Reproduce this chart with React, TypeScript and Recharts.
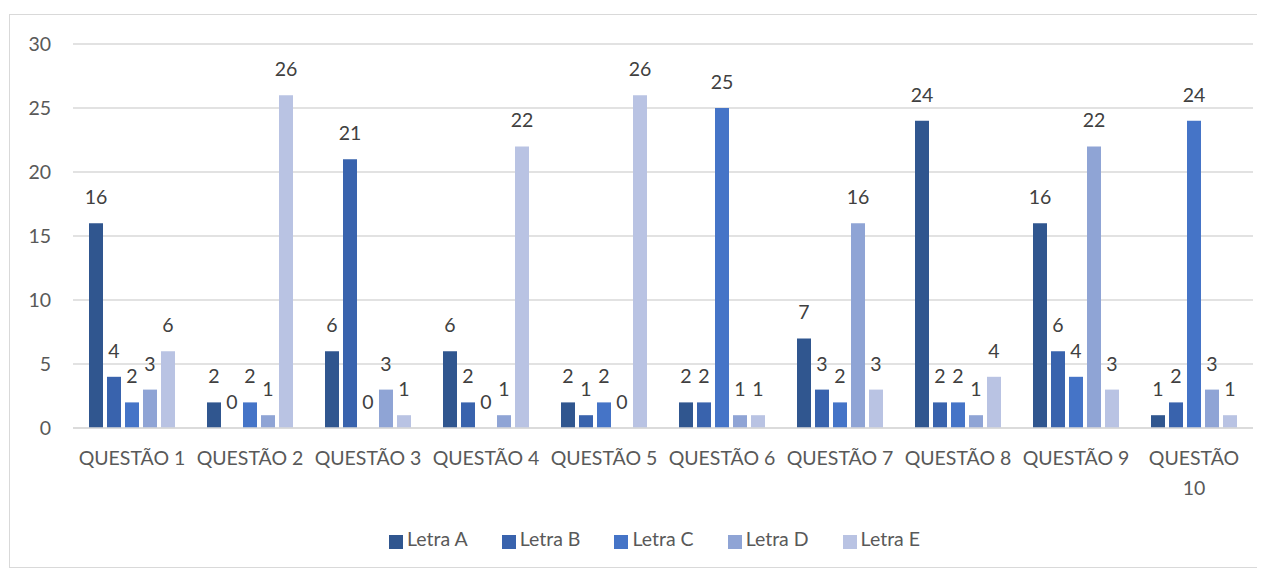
import { BarChart, Bar, XAxis, YAxis, CartesianGrid, Legend, LabelList } from "recharts";

const QUESTOES = [
  "QUESTÃO 1", "QUESTÃO 2", "QUESTÃO 3", "QUESTÃO 4", "QUESTÃO 5",
  "QUESTÃO 6", "QUESTÃO 7", "QUESTÃO 8", "QUESTÃO 9", "QUESTÃO 10",
];

const letraA = [16, 2, 6, 6, 2, 2, 7, 24, 16, 1];
const letraB = [4, 0, 21, 2, 1, 2, 3, 2, 6, 2];
const letraC = [2, 2, 0, 0, 2, 25, 2, 2, 4, 24];
const letraD = [3, 1, 3, 1, 0, 1, 16, 1, 22, 3];
const letraE = [6, 26, 1, 22, 26, 1, 3, 4, 3, 1];

const Y_TICKS = [0, 5, 10, 15, 20, 25, 30];

const SERIES = [
  { key: "a", name: "Letra A", color: "#30568f" },
  { key: "b", name: "Letra B", color: "#3963ad" },
  { key: "c", name: "Letra C", color: "#4574c7" },
  { key: "d", name: "Letra D", color: "#8fa4d5" },
  { key: "e", name: "Letra E", color: "#b9c3e3" },
];

const data = QUESTOES.map((q, i) => ({
  q,
  a: letraA[i],
  b: letraB[i],
  c: letraC[i],
  d: letraD[i],
  e: letraE[i],
}));

const FONT = "Lato, 'Noto Sans', sans-serif";
const FS = 19.5;

const QuestaoTick = (props: any) => {
  const { x, y, payload } = props;
  const label: string = payload.value;
  // long labels wrap onto two lines, like the original
  const lines = label.length > 9 ? label.split(" ") : [label];
  return (
    <text x={x} y={y} textAnchor="middle" fill="#595959" fontSize={FS} fontFamily={FONT}>
      {lines.map((l, i) => (
        <tspan key={i} x={x} dy={i === 0 ? 37 : 30}>{l}</tspan>
      ))}
    </text>
  );
};

// draws the value above the bar, zeros included
const ValueLabel = (props: any) => {
  const { x, y, width, value } = props;
  return (
    <text x={x + width / 2} y={y - 19} textAnchor="middle" fill="#404040" fontSize={FS} fontFamily={FONT}>
      {value}
    </text>
  );
};

export default function App() {
  return (
    <div
      style={{
        marginTop: 6,
        marginLeft: 1,
        width: 1262,
        height: 552,
        border: "1px solid #d9d9d9",
        fontFamily: FONT,
      }}
    >
      <BarChart
        width={1262}
        height={552}
        data={data}
        margin={{ top: 29, right: 19, bottom: 0, left: 0 }}
        barCategoryGap={16}
        barGap={4}
      >
        <CartesianGrid vertical={false} stroke="#d9d9d9" strokeWidth={1.5} />
        <XAxis
          dataKey="q"
          tick={<QuestaoTick />}
          tickLine={false}
          tickSize={0}
          tickMargin={0}
          axisLine={{ stroke: "#d9d9d9", strokeWidth: 1.5 }}
          interval={0}
          height={116}
        />
        <YAxis
          domain={[0, 30]}
          ticks={Y_TICKS}
          width={63}
          tickLine={false}
          axisLine={false}
          tickSize={0}
          tickMargin={22}
          tick={{ fill: "#595959", fontSize: FS, fontFamily: FONT }}
        />
        <Legend
          verticalAlign="bottom"
          align="center"
          iconType="square"
          iconSize={14}
          wrapperStyle={{ bottom: 17, paddingLeft: 40 }}
          formatter={(value: string) => (
            <span style={{ color: "#595959", fontSize: FS, marginRight: 24 }}>{value}</span>
          )}
        />
        {SERIES.map((s) => (
          <Bar key={s.key} dataKey={s.key} name={s.name} fill={s.color} isAnimationActive={false} minPointSize={0.01}>
            <LabelList dataKey={s.key} content={<ValueLabel />} />
          </Bar>
        ))}
      </BarChart>
    </div>
  );
}
